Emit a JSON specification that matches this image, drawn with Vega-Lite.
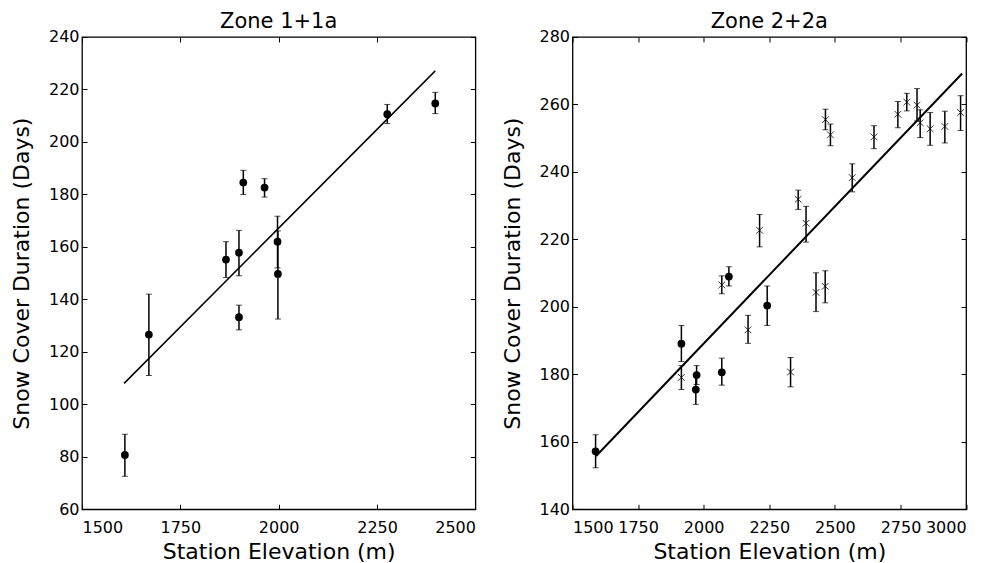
{
  "$schema": "https://vega.github.io/schema/vega-lite/v6.json",
  "background": "white",
  "padding": {"left": 10, "top": 10, "right": 5, "bottom": 0},
  "spacing": 96.5,
  "bounds": "flush",
  "config": {
    "font": "DejaVu Sans",
    "view": {"stroke": "black", "strokeWidth": 1.3},
    "axis": {
      "domain": false, "grid": false,
      "tickColor": "black", "tickSize": -5, "tickWidth": 1,
      "labelColor": "black", "labelFontSize": 16, "labelFont": "DejaVu Sans", "format": "d",
      "titleColor": "black", "titleFontSize": 22, "titleFontWeight": "normal", "titleFont": "DejaVu Sans"
    },
    "axisX": {"labelPadding": 15, "titlePadding": 6},
    "axisY": {"labelPadding": 8, "titlePadding": 14.5},
    "title": {"fontSize": 21, "fontWeight": "normal", "font": "DejaVu Sans", "color": "black", "offset": -3, "frame": "group"}
  },
  "datasets": {
    "zone1": [
      {"elev": 1609, "days": 80.7, "lo": 72.6, "hi": 88.6},
      {"elev": 1670, "days": 126.6, "lo": 111, "hi": 142},
      {"elev": 1866, "days": 155.2, "lo": 148.3, "hi": 162},
      {"elev": 1899, "days": 157.8, "lo": 149, "hi": 166.3},
      {"elev": 1899, "days": 133.2, "lo": 128.4, "hi": 137.8},
      {"elev": 1910, "days": 184.5, "lo": 180, "hi": 189.2},
      {"elev": 1964, "days": 182.6, "lo": 179, "hi": 186},
      {"elev": 1997, "days": 162, "lo": 152, "hi": 171.7},
      {"elev": 1998, "days": 149.7, "lo": 132.5, "hi": 166.1},
      {"elev": 2276, "days": 210.6, "lo": 207, "hi": 214.3},
      {"elev": 2398, "days": 214.7, "lo": 210.8, "hi": 218.9}
    ],
    "fit1": [
      {"elev": 1607, "days": 108},
      {"elev": 2398, "days": 227.1}
    ],
    "zone2": [
      {"elev": 2213, "days": 222.7, "lo": 217.8, "hi": 227.4, "type": "cross"},
      {"elev": 2360, "days": 231.9, "lo": 228.9, "hi": 234.6, "type": "cross"},
      {"elev": 2390, "days": 224.8, "lo": 219.2, "hi": 229.8, "type": "cross"},
      {"elev": 2464, "days": 255.5, "lo": 252.5, "hi": 258.6, "type": "cross"},
      {"elev": 2483, "days": 251, "lo": 247.8, "hi": 254.2, "type": "cross"},
      {"elev": 2566, "days": 238.3, "lo": 234.1, "hi": 242.4, "type": "cross"},
      {"elev": 2649, "days": 250.4, "lo": 246.9, "hi": 253.7, "type": "cross"},
      {"elev": 2740, "days": 257.1, "lo": 253.1, "hi": 260.9, "type": "cross"},
      {"elev": 2774, "days": 260.7, "lo": 258.1, "hi": 263.3, "type": "cross"},
      {"elev": 2813, "days": 259.8, "lo": 255.1, "hi": 264.7, "type": "cross"},
      {"elev": 2825, "days": 254.6, "lo": 250.2, "hi": 258.4, "type": "cross"},
      {"elev": 2863, "days": 252.8, "lo": 247.9, "hi": 257.6, "type": "cross"},
      {"elev": 2919, "days": 253.5, "lo": 248.6, "hi": 258, "type": "cross"},
      {"elev": 2979, "days": 257.6, "lo": 252.3, "hi": 262.6, "type": "cross"},
      {"elev": 2069, "days": 206.5, "lo": 203.9, "hi": 209.2, "type": "cross"},
      {"elev": 2169, "days": 193.2, "lo": 189.2, "hi": 197.5, "type": "cross"},
      {"elev": 2428, "days": 204.3, "lo": 198.6, "hi": 210.1, "type": "cross"},
      {"elev": 2463, "days": 206.1, "lo": 201.2, "hi": 210.7, "type": "cross"},
      {"elev": 2331, "days": 180.7, "lo": 176.3, "hi": 185, "type": "cross"},
      {"elev": 1915, "days": 179.1, "lo": 175.5, "hi": 182.6, "type": "cross"},
      {"elev": 1588, "days": 157.2, "lo": 152.3, "hi": 162.1, "type": "dot"},
      {"elev": 1915, "days": 189.1, "lo": 183.8, "hi": 194.5, "type": "dot"},
      {"elev": 1973, "days": 179.8, "lo": 177, "hi": 182.6, "type": "dot"},
      {"elev": 1970, "days": 175.5, "lo": 171.1, "hi": 180, "type": "dot"},
      {"elev": 2069, "days": 180.6, "lo": 176.8, "hi": 184.8, "type": "dot"},
      {"elev": 2096, "days": 209, "lo": 206.2, "hi": 211.9, "type": "dot"},
      {"elev": 2242, "days": 200.4, "lo": 194.5, "hi": 206.2, "type": "dot"}
    ],
    "fit2": [
      {"elev": 1590, "days": 155.8},
      {"elev": 2985, "days": 269.2}
    ]
  },
  "hconcat": [
    {
      "title": "Zone 1+1a",
      "width": 393.4, "height": 472.3,
      "resolve": {"axis": {"x": "independent", "y": "independent"}},
      "layer": [
        {
          "data": {"name": "zone1"},
          "encoding": {
            "x": {"field": "elev", "type": "quantitative",
                  "scale": {"domain": [1500, 2500], "nice": false, "zero": false},
                  "axis": {"title": "Station Elevation (m)", "values": [1500, 1750, 2000, 2250, 2500], "orient": "bottom"}},
            "y": {"field": "days", "type": "quantitative",
                  "scale": {"domain": [60, 240], "nice": false, "zero": false},
                  "axis": {"title": "Snow Cover Duration (Days)", "values": [60, 80, 100, 120, 140, 160, 180, 200, 220, 240], "orient": "left"}}
          },
          "layer": [
            {"mark": {"type": "rule", "color": "black", "strokeWidth": 1.5},
             "encoding": {"y": {"field": "lo", "type": "quantitative"}, "y2": {"field": "hi"}}},
            {"mark": {"type": "tick", "color": "black", "orient": "horizontal", "size": 6, "thickness": 1},
             "encoding": {"y": {"field": "lo", "type": "quantitative"}}},
            {"mark": {"type": "tick", "color": "black", "orient": "horizontal", "size": 6, "thickness": 1},
             "encoding": {"y": {"field": "hi", "type": "quantitative"}}},
            {"mark": {"type": "point", "shape": "circle", "filled": true, "color": "black", "opacity": 1, "size": 60}},
            {"data": {"name": "fit1"}, "mark": {"type": "line", "color": "black", "strokeWidth": 1.5}}
          ]
        },
        {
          "data": {"name": "fit1"},
          "mark": {"type": "point", "opacity": 0},
          "encoding": {
            "x": {"field": "elev", "type": "quantitative",
                  "scale": {"domain": [1500, 2500], "nice": false, "zero": false},
                  "axis": {"title": null, "labels": false, "values": [1500, 1750, 2000, 2250, 2500], "orient": "top"}},
            "y": {"field": "days", "type": "quantitative",
                  "scale": {"domain": [60, 240], "nice": false, "zero": false},
                  "axis": {"title": null, "labels": false, "values": [60, 80, 100, 120, 140, 160, 180, 200, 220, 240], "orient": "right"}}
          }
        }
      ]
    },
    {
      "title": "Zone 2+2a",
      "width": 393.6, "height": 472.3,
      "resolve": {"axis": {"x": "independent", "y": "independent"}},
      "layer": [
        {
          "data": {"name": "zone2"},
          "encoding": {
            "x": {"field": "elev", "type": "quantitative",
                  "scale": {"domain": [1500, 3000], "nice": false, "zero": false},
                  "axis": {"title": "Station Elevation (m)", "values": [1500, 1750, 2000, 2250, 2500, 2750, 3000], "orient": "bottom"}},
            "y": {"field": "days", "type": "quantitative",
                  "scale": {"domain": [140, 280], "nice": false, "zero": false},
                  "axis": {"title": "Snow Cover Duration (Days)", "values": [140, 160, 180, 200, 220, 240, 260, 280], "orient": "left"}}
          },
          "layer": [
            {"mark": {"type": "rule", "color": "black", "strokeWidth": 1.5},
             "encoding": {"y": {"field": "lo", "type": "quantitative"}, "y2": {"field": "hi"}}},
            {"mark": {"type": "tick", "color": "black", "orient": "horizontal", "size": 6, "thickness": 1},
             "encoding": {"y": {"field": "lo", "type": "quantitative"}}},
            {"mark": {"type": "tick", "color": "black", "orient": "horizontal", "size": 6, "thickness": 1},
             "encoding": {"y": {"field": "hi", "type": "quantitative"}}},
            {"transform": [{"filter": "datum.type === 'dot'"}],
             "mark": {"type": "point", "shape": "circle", "filled": true, "color": "black", "opacity": 1, "size": 60}},
            {"transform": [{"filter": "datum.type === 'cross'"}],
             "mark": {"type": "point", "shape": "M-1,-1L1,1M-1,1L1,-1", "filled": false, "color": "black", "opacity": 1, "size": 45, "strokeWidth": 0.8}},
            {"data": {"name": "fit2"}, "mark": {"type": "line", "color": "black", "strokeWidth": 2}}
          ]
        },
        {
          "data": {"name": "fit2"},
          "mark": {"type": "point", "opacity": 0},
          "encoding": {
            "x": {"field": "elev", "type": "quantitative",
                  "scale": {"domain": [1500, 3000], "nice": false, "zero": false},
                  "axis": {"title": null, "labels": false, "values": [1500, 1750, 2000, 2250, 2500, 2750, 3000], "orient": "top"}},
            "y": {"field": "days", "type": "quantitative",
                  "scale": {"domain": [140, 280], "nice": false, "zero": false},
                  "axis": {"title": null, "labels": false, "values": [140, 160, 180, 200, 220, 240, 260, 280], "orient": "right"}}
          }
        }
      ]
    }
  ]
}
